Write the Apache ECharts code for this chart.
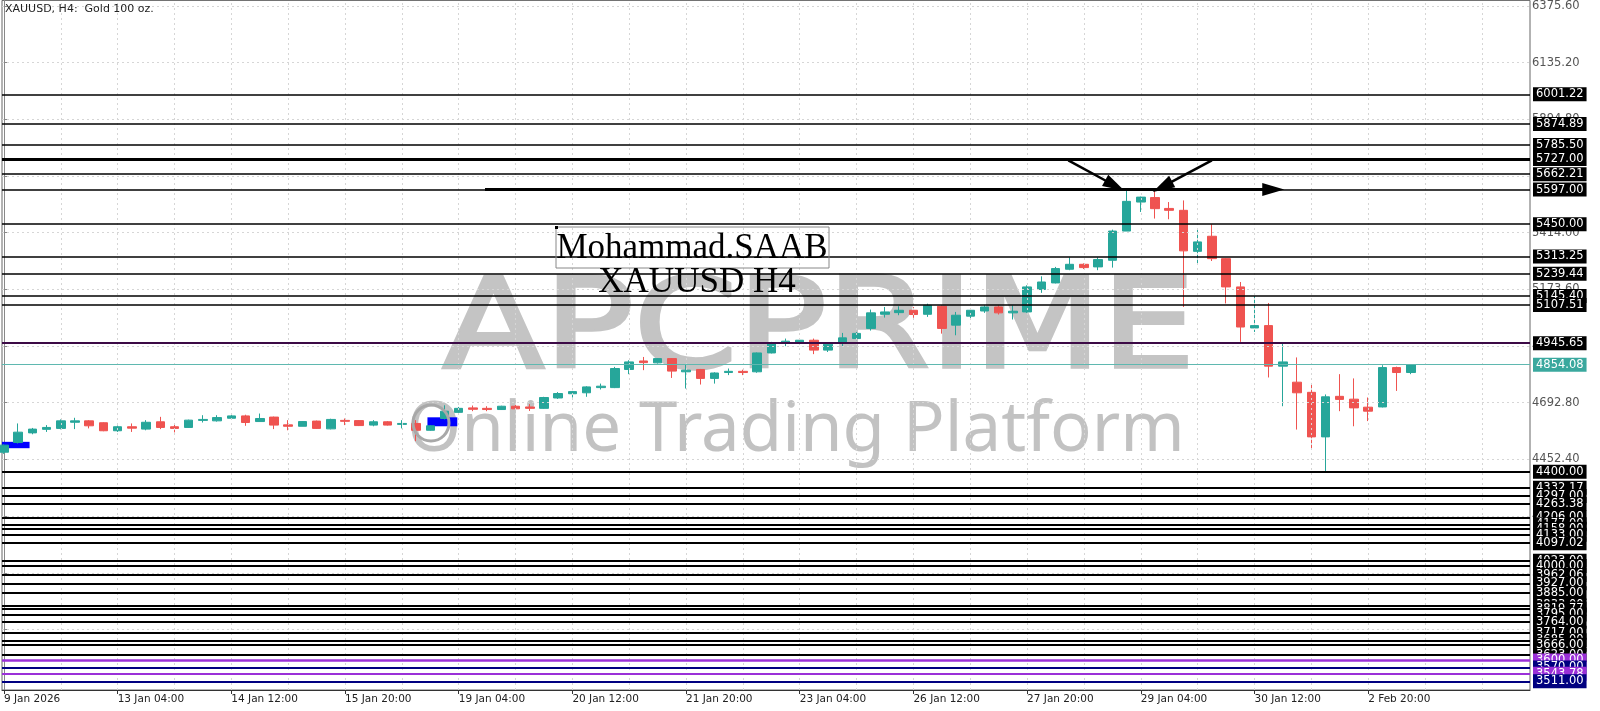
<!DOCTYPE html>
<html><head><meta charset="utf-8">
<script src="https://cdn.jsdelivr.net/npm/echarts@6/dist/echarts.min.js"></script>
<style>html,body{margin:0;padding:0;background:#fff}#c{width:1600px;height:711px}</style>
</head><body><div id="c"></div>
<script>
// ---- data (XAUUSD H4, bar index 0 = 9 Jan 2026 20:00) ----
const opens = [4483,4524,4565,4580,4584,4610,4616,4608,4574,4591,4581,4612,4591,4588,4618,4616,4627,4637,4613,4632,
4599,4593,4615,4582,4618,4617,4598,4612,4601,4605,4576,4626,4652,4671,4669,4664,4678,4675,4669,4713,
4731,4735,4757,4757,4834,4870,4862,4880,4824,4834,4796,4821,4826,4824,4904,4948,4947,4958,4916,4947,
4965,5008,5068,5075,5085,5068,5102,5022,5060,5082,5099,5074,5078,5173,5201,5259,5280,5269,5297,5421,
5544,5563,5517,5509,5335,5399,5304,5184,5010,5020,4848,4780,4737,4548,4720,4708,4674,4675,4842,4821];
const closes = [4513,4568,4581,4588,4616,4616,4595,4574,4591,4585,4610,4588,4584,4619,4622,4630,4637,4609,4626,4598,
4593,4613,4584,4622,4614,4596,4612,4598,4605,4576,4595,4657,4669,4665,4664,4678,4667,4669,4715,4732,
4740,4760,4763,4838,4866,4863,4880,4827,4831,4796,4819,4826,4821,4904,4948,4954,4958,4916,4941,4968,
4987,5074,5078,5085,5067,5106,5008,5064,5085,5099,5074,5081,5184,5205,5262,5280,5266,5300,5421,5547,
5565,5516,5509,5337,5375,5304,5184,5014,5020,4848,4866,4735,4548,4718,4707,4671,4657,4842,4821,4854.08];
const lows = [4476,4520,4559,4569,4580,4581,4584,4572,4569,4569,4576,4581,4567,4586,4609,4613,4623,4595,4613,4581,
4576,4593,4582,4580,4598,4594,4593,4596,4584,4530,4574,4622,4647,4657,4657,4662,4665,4658,4667,4709,
4715,4718,4749,4755,4814,4831,4859,4798,4753,4770,4774,4810,4810,4820,4902,4933,4941,4899,4908,4933,
4958,4999,5054,5064,5053,5057,4986,4979,5050,5074,5067,5046,5074,5159,5199,5255,5260,5255,5266,5421,
5502,5474,5471,5099,5283,5294,5114,4951,4993,4800,4678,4579,4499,4400,4657,4593,4615,4673,4743,4814];
const highs = [4516,4605,4586,4598,4622,4629,4619,4610,4596,4605,4619,4633,4601,4621,4640,4640,4641,4642,4647,4634,
4619,4615,4617,4625,4626,4619,4619,4615,4619,4619,4597,4682,4675,4681,4678,4680,4684,4687,4718,4738,
4743,4763,4774,4845,4873,4887,4882,4882,4856,4836,4822,4838,4833,4906,4951,4965,4965,4965,4944,4989,
4993,5088,5099,5102,5099,5113,5106,5078,5089,5106,5106,5106,5191,5229,5269,5309,5284,5309,5427,5594,
5567,5594,5544,5551,5427,5450,5306,5205,5145,5116,4944,4885,4771,4728,4814,4796,4715,4852,4846,4856];

const xTickIndex = [0,8,16,24,32,40,48,56,64,72,80,88,96];
const xTickLabels = ["9 Jan 2026","13 Jan 04:00","14 Jan 12:00","15 Jan 20:00","19 Jan 04:00","20 Jan 12:00",
  "21 Jan 20:00","23 Jan 04:00","26 Jan 12:00","27 Jan 20:00","29 Jan 04:00","30 Jan 12:00","2 Feb 20:00"];
const xGridIndex = [4,8,12,16,20,24,28,32,36,40,44,48,52,56,60,64,68,72,76,80,84,88,92,96,100,104];
const yTickValues = [6375.60,6135.20,5894.80,5654.40,5414.00,5173.60,4933.20,4692.80,4452.40,4212.00,3971.60,3731.20];

const levelsUpper = [6001.22,5874.89,5785.50,5727.00,5662.21,5597.00,5450.00,5313.25,5239.44,5145.40,5107.51];
const levelsThick = [5727.00];
const levelsLower = [4400.00,4332.17,4297.00,4263.38,4206.00,4177.00,4158.00,4133.00,4097.02,4023.00,4000.00,
  3962.06,3927.00,3885.00,3833.00,3819.77,3795.00,3764.00,3717.00,3685.00,3666.00,3623.00];
const levelsPurple = [3600.00,3543.78];
const levelsNavy = [3570.00,3511.00];
const levelResistance = 4945.65;
const lastPrice = 4854.08;

// drawn objects (bar index, price)
const arrowMain = [[33.85,5597.00],[88.9,5597.00]];
const arrowLeft = [[74.9,5721],[77.8,5626]];
const arrowRight = [[85.0,5721],[81.9,5621]];
const supportSegment = [[52,4400.00],[107.4,4400.00]];
const blueBoxes = [[[-0.3,4527],[1.8,4500]],[[29.8,4631],[31.9,4593]]];

// ---- chart ----
const chart = echarts.init(document.getElementById('c'), null, {renderer:'canvas'});
const FONT = 'DejaVu Sans';

function levelItem(p, color, width, bg){
  return {yAxis:p, lineStyle:{color:color, width:width, type:'solid'},
    label:{show:true, position:'end', distance:3, formatter:p.toFixed(2), color:'#fff', backgroundColor:bg,
      padding:[1,3,0,3], fontFamily:FONT, fontSize:11.5, lineHeight:13}};
}
const levelData = [];
levelsUpper.forEach(p => levelData.push(levelItem(p,'#000', levelsThick.includes(p)?3:1.5, '#000')));
levelData.push(levelItem(levelResistance,'#3c0a46',2,'#000'));
levelData.push(levelItem(lastPrice,'#5fb8b0',1,'#3aa89e'));
levelsLower.forEach(p => levelData.push(levelItem(p,'#000',2,'#000')));
levelData.push(levelItem(levelsPurple[0],'#9b30d8',2.5,'#9b30d8'));
levelData.push(levelItem(levelsNavy[0],'#000080',2,'#000080'));
levelData.push(levelItem(levelsPurple[1],'#9b30d8',2,'#9b30d8'));
levelData.push(levelItem(levelsNavy[1],'#000080',2,'#000080'));

function seg(pts, width, arrow){
  return [
    {coord:pts[0], symbol:'none', lineStyle:{color:'#000', width:width, type:'solid'}, label:{show:false}},
    {coord:pts[1], symbol: arrow ? 'triangle' : 'none', symbolSize: arrow ? [13,22] : 0, symbolOffset:[0,-6]}
  ];
}
levelData.push(seg(supportSegment,3,false));
levelData.push(seg(arrowMain,3,true));
levelData.push(seg(arrowLeft,2.5,true));
levelData.push(seg(arrowRight,2.5,true));

const gridLines = [];
yTickValues.forEach(v => gridLines.push({yAxis:v}));
xGridIndex.forEach(v => gridLines.push({xAxis:v}));

const option = {
  animation:false,
  backgroundColor:'#fff',
  grid:{left:2, right:70, top:0, bottom:21, show:true, borderColor:'#666', borderWidth:1, backgroundColor:'transparent'},
  xAxis:{type:'value', min:-0.14, max:107.39, splitLine:{show:false},
    axisLine:{show:true, onZero:false, lineStyle:{color:'#333'}},
    axisTick:{show:true, customValues:xTickIndex, length:4, lineStyle:{color:'#333'}},
    axisLabel:{customValues:xTickIndex, formatter:v => xTickLabels[xTickIndex.indexOf(v)] || '', align:'left',
      color:'#222', fontFamily:FONT, fontSize:10.5, margin:4}},
  yAxis:{type:'value', position:'right', min:3474.4, max:6399.3, splitLine:{show:false},
    axisLine:{show:true, lineStyle:{color:'#888'}},
    axisTick:{show:true, customValues:yTickValues, length:4, lineStyle:{color:'#888'}},
    axisLabel:{customValues:yTickValues, formatter:v => v.toFixed(2), color:'#555', fontFamily:FONT, fontSize:11.5, margin:2}},
  series:[
    {type:'line', data:[], silent:true, z:1,
      markLine:{silent:true, symbol:['none','none'], animation:false, label:{show:false},
        lineStyle:{color:'#d6d6d6', width:1, type:[2,3]}, data:gridLines},
      markArea:{silent:true, itemStyle:{color:'#0000ff'},
        data:blueBoxes.map(b => [{coord:b[0]},{coord:b[1]}])}},
    {type:'candlestick', z:3, barWidth:9,
      data: opens.map((o,i) => [i, o, closes[i], lows[i], highs[i]]),
      itemStyle:{color:'#26a69a', color0:'#ef5350', borderColor:'#26a69a', borderColor0:'#ef5350', borderWidth:1},
      markLine:{silent:true, symbol:['none','none'], animation:false, data:levelData}}
  ],
  graphic:[
    {type:'text', z:-10, x:819, y:335, scaleX:1.03, scaleY:0.86,
      style:{text:'APCPRIME', font:'144px "DejaVu Sans"', fill:'#c4c4c4', stroke:'#c4c4c4', lineWidth:4, textAlign:'center', textVerticalAlign:'middle'}},
    {type:'text', z:-10, x:796, y:431, style:{text:'Online Trading Platform', font:'69px "Noto Sans"', fill:'#c2c2c2', textAlign:'center', textVerticalAlign:'middle'}},
    {type:'circle', z:10, shape:{cx:431, cy:423, r:18}, style:{fill:null, stroke:'#a8a8a8', lineWidth:3}},
    {type:'rect', z:10, shape:{x:556, y:227, width:273, height:41}, style:{fill:null, stroke:'#888', lineWidth:1}},
    {type:'rect', z:11, shape:{x:555, y:226, width:3, height:3}, style:{fill:'#000'}},
    {type:'text', z:10, x:692, y:249, style:{text:'Mohammad.SAAB', font:'35px "Liberation Serif"', fill:'#000', textAlign:'center', textVerticalAlign:'middle'}},
    {type:'text', z:10, x:697, y:283, style:{text:'XAUUSD H4', font:'35px "Liberation Serif"', fill:'#000', textAlign:'center', textVerticalAlign:'middle'}},
    {type:'text', z:10, x:5, y:4, style:{text:'XAUUSD, H4:  Gold 100 oz.', font:'11px "DejaVu Sans"', fill:'#222'}}
  ]
};
chart.setOption(option);
</script></body></html>
